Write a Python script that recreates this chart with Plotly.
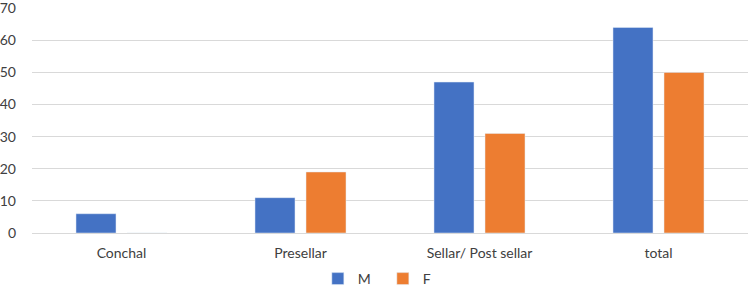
import plotly.graph_objects as go

categories = ["Conchal", "Presellar", "Sellar/ Post sellar", "total"]
m_values = [6, 11, 47, 64]
f_values = [0, 19, 31, 50]
y_ticks = [0, 10, 20, 30, 40, 50, 60, 70]

fig = go.Figure()
fig.add_trace(go.Bar(name="M", x=categories, y=m_values, marker_color="#4472C4"))
fig.add_trace(go.Bar(name="F", x=categories, y=f_values, marker_color="#ED7D31"))

font_family = "Lato, Liberation Sans, sans-serif"
fig.update_layout(
    width=750, height=296,
    margin=dict(l=32, r=2, t=8, b=62),
    paper_bgcolor="white", plot_bgcolor="white",
    barmode="group", bargap=0.43, bargroupgap=0.216,
    font=dict(family=font_family, size=14, color="#404040"),
    showlegend=True,
    legend=dict(orientation="h", x=0.49, xanchor="center",
                y=-0.27, yanchor="bottom",
                font=dict(size=14, color="#404040"), entrywidth=20, itemwidth=30,
                tracegroupgap=0),
)
fig.update_xaxes(showline=False, ticks="", ticklabelstandoff=10, automargin=False,
                 tickfont=dict(color="#404040", size=14))
fig.update_yaxes(range=[0, 70.05], tickvals=y_ticks, showgrid=True, gridcolor="#D9D9D9",
                 gridwidth=1, zeroline=True, zerolinecolor="#D9D9D9", zerolinewidth=1,
                 showline=False, ticks="", ticklabelstandoff=15, automargin=False,
                 ticklabeloverflow="allow",
                 tickfont=dict(color="#404040", size=14))

# remove the browser's default 8px body margin so the figure sits at the page origin
fig.write_html("out.html", config={"displayModeBar": False},
               post_script="document.body.style.margin='0';")
